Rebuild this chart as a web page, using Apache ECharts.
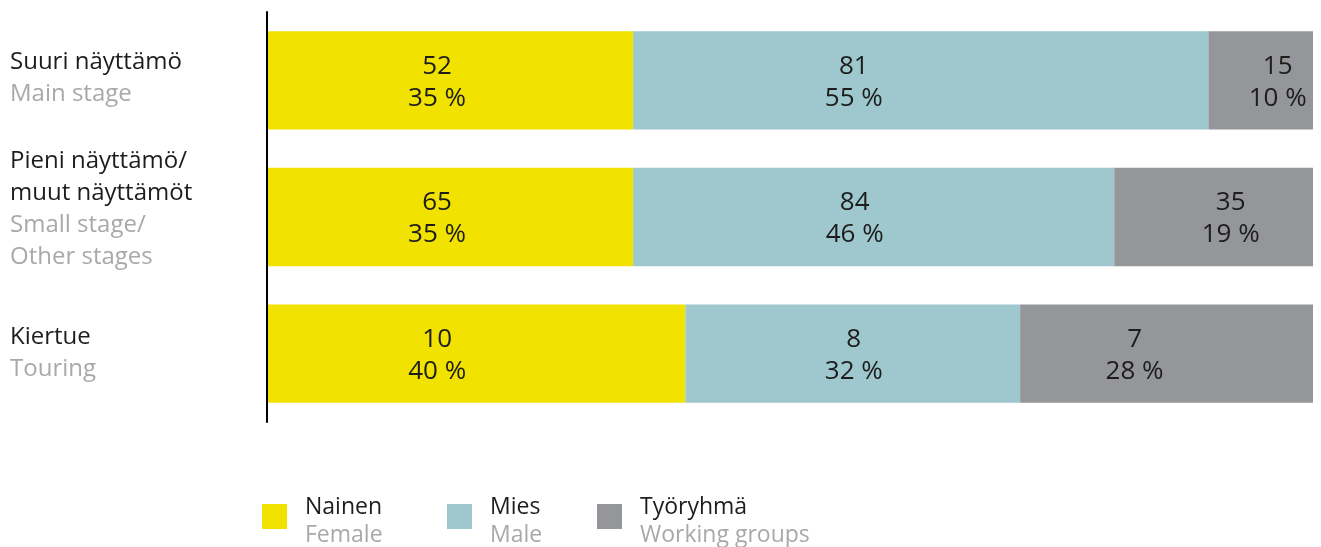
<!DOCTYPE html>
<html>
<head>
<meta charset="utf-8">
<script src="https://cdn.jsdelivr.net/npm/echarts@6/dist/echarts.min.js"></script>
<style>
  html, body { margin: 0; padding: 0; background: #ffffff; }
  #chart { width: 1321px; height: 547px; }
</style>
</head>
<body>
<div id="chart"></div>
<script>
// Stages (Finnish / English)
const stagesFi = [['Suuri näyttämö'], ['Pieni näyttämö/', 'muut näyttämöt'], ['Kiertue']];
const stagesEn = [['Main stage'], ['Small stage/', 'Other stages'], ['Touring']];

// Groups
const groupsFi = ['Nainen', 'Mies', 'Työryhmä'];
const groupsEn = ['Female', 'Male', 'Working groups'];

// Counts per group, one value per stage
const countFemale = [52, 65, 10];
const countMale = [81, 84, 8];
const countGroups = [15, 35, 7];

// Shares (%) per group, one value per stage
const pctFemale = [35, 35, 40];
const pctMale = [55, 46, 32];
const pctGroups = [10, 19, 28];

const counts = [countFemale, countMale, countGroups];
const pcts = [pctFemale, pctMale, pctGroups];

// Styling and layout
const colors = ['#f2e200', '#9ec7ce', '#959699'];
const labelShift = [[-13, -13, -39], [-67, -19, 1], [17, 17, -32]];
const categoryLift = [2, 8, 1];
const legendX = [262, 447, 597];
const FONT = '"Open Sans", sans-serif';
const DARK = '#1d1d1b';
const LIGHT = '#a9a9a9';

const chart = echarts.init(document.getElementById('chart'));

const graphics = [];
groupsFi.forEach((name, i) => {
  graphics.push({
    type: 'rect', left: legendX[i], top: 504,
    shape: { width: 25, height: 25 }, style: { fill: colors[i] }
  });
  graphics.push({
    type: 'text', left: legendX[i] + 43, top: 496,
    style: {
      text: '{a|' + name + '}\n{b|' + groupsEn[i] + '}',
      rich: {
        a: { fontFamily: FONT, fontSize: 23, lineHeight: 28, fill: DARK },
        b: { fontFamily: FONT, fontSize: 23, lineHeight: 28, fill: LIGHT }
      }
    }
  });
});

// Spacer lines that nudge each category label block upwards
const axisRich = {
  fi: { fontFamily: FONT, fontSize: 24, lineHeight: 32, color: DARK, align: 'left' },
  en: { fontFamily: FONT, fontSize: 24, lineHeight: 32, color: LIGHT, align: 'left' }
};
categoryLift.forEach((lift, i) => {
  axisRich['gap' + i] = { fontSize: 1, lineHeight: lift * 2, align: 'left' };
});

chart.setOption({
  animation: false,
  backgroundColor: '#ffffff',
  grid: { left: 267, right: 8, top: 12, bottom: 125, containLabel: false, outerBoundsMode: 'none' },
  xAxis: {
    type: 'value', min: 0, max: 100,
    show: false
  },
  yAxis: {
    type: 'category',
    inverse: true,
    z: 5,
    data: stagesFi.map(l => l.join(' ')),
    axisLine: { show: true, lineStyle: { color: '#000000', width: 2 } },
    axisTick: { show: false },
    splitLine: { show: false },
    axisLabel: {
      margin: 257,
      align: 'left',
      formatter: function (value, idx) {
        const lines = stagesFi[idx].map(t => '{fi|' + t + '}');
        stagesEn[idx].forEach(t => lines.push('{en|' + t + '}'));
        lines.push('{gap' + idx + '| }');
        return lines.join('\n');
      },
      rich: axisRich
    }
  },
  series: groupsFi.map((name, s) => ({
    name: name,
    type: 'bar',
    stack: 'total',
    barCategoryGap: '28%',
    itemStyle: { color: colors[s] },
    emphasis: { disabled: true },
    data: pcts[s].map((v, i) => ({
      value: v,
      label: { offset: [labelShift[s][i], 2] }
    })),
    label: {
      show: true,
      position: 'inside',
      fontFamily: FONT,
      fontSize: 26,
      lineHeight: 32,
      color: DARK,
      align: 'center',
      formatter: function (p) {
        return counts[s][p.dataIndex] + '\n' + pcts[s][p.dataIndex] + ' %';
      }
    }
  })),
  graphic: graphics
});
</script>
</body>
</html>
